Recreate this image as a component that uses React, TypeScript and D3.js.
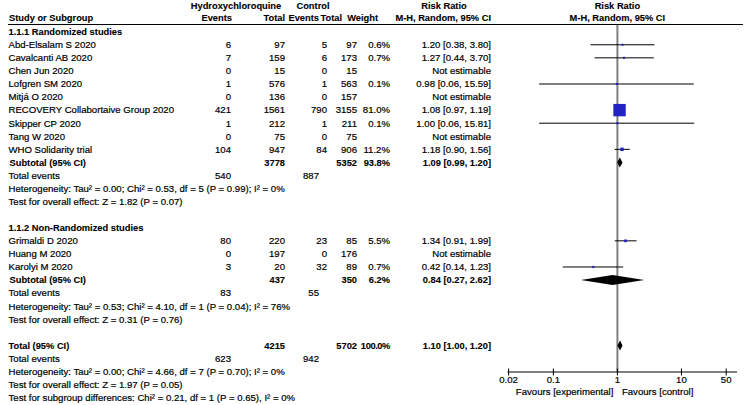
import React from "react";
import * as d3 from "d3";

// study rows
const studyNames = [
  "Abd-Elsalam S 2020",
  "Cavalcanti AB 2020",
  "Chen Jun 2020",
  "Lofgren SM 2020",
  "Mitjá O 2020",
  "RECOVERY Collabortaive Group 2020",
  "Skipper CP 2020",
  "Tang W 2020",
  "WHO Solidarity trial",
  "Grimaldi D 2020",
  "Huang M 2020",
  "Karolyi M 2020",
];
const studyGroup = [0, 0, 0, 0, 0, 0, 0, 0, 0, 1, 1, 1];
const hcqEvents = [6, 7, 0, 1, 0, 421, 1, 0, 104, 80, 0, 3];
const hcqTotals = [97, 159, 15, 576, 136, 1561, 212, 75, 947, 220, 197, 20];
const ctlEvents = [5, 6, 0, 1, 0, 790, 1, 0, 84, 23, 0, 32];
const ctlTotals = [97, 173, 15, 563, 157, 3155, 211, 75, 906, 85, 176, 89];
const weights = [0.6, 0.7, null, 0.1, null, 81.0, 0.1, null, 11.2, 5.5, null, 0.7];
const ratios = [1.2, 1.27, null, 0.98, null, 1.08, 1.0, null, 1.18, 1.34, null, 0.42];
const lowers = [0.38, 0.44, null, 0.06, null, 0.97, 0.06, null, 0.9, 0.91, null, 0.14];
const uppers = [3.8, 3.7, null, 15.59, null, 1.19, 15.81, null, 1.56, 1.99, null, 1.23];

// subgroups
const groupTitles = ["1.1.1 Randomized studies", "1.1.2 Non-Randomized studies"];
const groupHcqTotals = [3778, 437];
const groupCtlTotals = [5352, 350];
const groupWeights = [93.8, 6.2];
const groupRatios = [1.09, 0.84];
const groupLowers = [0.99, 0.27];
const groupUppers = [1.2, 2.62];
const groupHcqEvents = [540, 83];
const groupCtlEvents = [887, 55];
const groupHet = [
  "Heterogeneity: Tau² = 0.00; Chi² = 0.53, df = 5 (P = 0.99); I² = 0%",
  "Heterogeneity: Tau² = 0.53; Chi² = 4.10, df = 1 (P = 0.04); I² = 76%",
];
const groupTest = [
  "Test for overall effect: Z = 1.82 (P = 0.07)",
  "Test for overall effect: Z = 0.31 (P = 0.76)",
];

// overall
const totalHcq = 4215;
const totalCtl = 5702;
const totalWeight = 100.0;
const totalRatio = 1.1;
const totalLower = 1.0;
const totalUpper = 1.2;
const totalHcqEvents = 623;
const totalCtlEvents = 942;
const totalHet = "Heterogeneity: Tau² = 0.00; Chi² = 4.66, df = 7 (P = 0.70); I² = 0%";
const totalTest = "Test for overall effect: Z = 1.97 (P = 0.05)";
const subgroupTest = "Test for subgroup differences: Chi² = 0.21, df = 1 (P = 0.65), I² = 0%";

const axisTicks = [0.02, 0.1, 1, 10, 50];

const W = 745, H = 405;
const FONT = "'Liberation Sans', Arial, sans-serif";
const FS = 9.6;
const FSB = 9.3;
const BLUE = "#2222c4";

// column right edges
const col = { hcqE: 231, hcqT: 285, ctlE: 327, ctlEvTot: 319, ctlT: 357, wt: 390, rr: 491 };

const fmt2 = d3.format(".2f");
const ciText = (r: number, l: number, u: number) => `${fmt2(r)} [${fmt2(l)}, ${fmt2(u)}]`;

type Row =
  | { kind: "heading"; slot: number; text: string }
  | { kind: "study"; slot: number; i: number }
  | { kind: "subtotal"; slot: number; g: number }
  | { kind: "events"; slot: number; a: number; b: number }
  | { kind: "note"; slot: number; text: string }
  | { kind: "total"; slot: number };

function buildRows(): Row[] {
  const rows: Row[] = [];
  let slot = 0;
  groupTitles.forEach((title, g) => {
    rows.push({ kind: "heading", slot: slot++, text: title });
    studyNames.forEach((_, i) => {
      if (studyGroup[i] === g) rows.push({ kind: "study", slot: slot++, i });
    });
    rows.push({ kind: "subtotal", slot: slot++, g });
    rows.push({ kind: "events", slot: slot++, a: groupHcqEvents[g], b: groupCtlEvents[g] });
    rows.push({ kind: "note", slot: slot++, text: groupHet[g] });
    rows.push({ kind: "note", slot: slot++, text: groupTest[g] });
    slot++;
  });
  rows.push({ kind: "total", slot: slot++ });
  rows.push({ kind: "events", slot: slot++, a: totalHcqEvents, b: totalCtlEvents });
  rows.push({ kind: "note", slot: slot++, text: totalHet });
  rows.push({ kind: "note", slot: slot++, text: totalTest });
  rows.push({ kind: "note", slot: slot++, text: subgroupTest });
  return rows;
}

const T = (props: any) => {
  const bold = props.fontWeight === "bold";
  return (
    <text
      fontFamily={FONT}
      fontSize={bold ? FSB : FS}
      dy="0.35em"
      fill="#000"
      stroke="#000"
      strokeWidth={bold ? 0.1 : 0.2}
      {...props}
    />
  );
};
const R = (xx: number, yy: number, s: any, bold = false, extra: any = {}) => (
  <T x={xx} y={yy} textAnchor="end" fontWeight={bold ? "bold" : "normal"} {...extra}>{s}</T>
);

export default function App() {
  const rows = buildRows();
  const y = d3.scaleLinear().domain([0, 28]).range([31.7, 397.7]);
  const x = d3.scaleLog().domain([0.02, 50]).range([508.6, 726.2]);
  const sq = d3.scaleLinear().domain([0, 81]).range([2, 12.4]);
  const axisY = 372;

  const diamond = (r: number, l: number, u: number, cy: number) => {
    const path = d3.path();
    path.moveTo(x(l), cy);
    path.lineTo(x(r), cy - 5);
    path.lineTo(x(u), cy);
    path.lineTo(x(r), cy + 5);
    path.closePath();
    return <path d={path.toString()} fill="#000" />;
  };

  return (
    <svg width={W} height={H} style={{ position: "absolute", left: 0, top: 0, background: "#fff" }}>
      {/* header */}
      <T x={9} y={17.5} fontWeight="bold">Study or Subgroup</T>
      <T x={236} y={6} textAnchor="middle" fontWeight="bold">Hydroxychloroquine</T>
      <T x={313} y={6} textAnchor="middle" fontWeight="bold">Control</T>
      <T x={444} y={6} textAnchor="middle" fontWeight="bold">Risk Ratio</T>
      <T x={x(1)} y={6} textAnchor="middle" fontWeight="bold">Risk Ratio</T>
      {R(232, 17.5, "Events", true)}
      {R(285, 17.5, "Total", true)}
      {R(319, 17.5, "Events", true)}
      {R(342, 17.5, "Total", true)}
      {R(378, 17.5, "Weight", true)}
      {R(491, 17.5, "M-H, Random, 95% CI", true)}
      <T x={x(1)} y={17.5} textAnchor="middle" fontWeight="bold">M-H, Random, 95% CI</T>
      <line x1={8} x2={743} y1={24.5} y2={24.5} stroke="#000" strokeWidth={1} />

      {/* null line */}
      <line x1={x(1)} x2={x(1)} y1={25} y2={axisY} stroke="#808080" strokeWidth={2} />

      {rows.map((row, k) => {
        const cy = y(row.slot);
        if (row.kind === "heading")
          return <T key={k} x={8.5} y={cy} fontWeight="bold">{row.text}</T>;
        if (row.kind === "note") return <T key={k} x={8.5} y={cy}>{row.text}</T>;
        if (row.kind === "events")
          return (
            <g key={k}>
              <T x={8.5} y={cy}>Total events</T>
              {R(col.hcqE, cy, row.a)}
              {R(col.ctlEvTot, cy, row.b)}
            </g>
          );
        if (row.kind === "study") {
          const i = row.i;
          const r = ratios[i], l = lowers[i], u = uppers[i], w = weights[i];
          const s = w != null ? sq(w) : 0;
          return (
            <g key={k}>
              <T x={8.5} y={cy}>{studyNames[i]}</T>
              {R(col.hcqE, cy, hcqEvents[i])}
              {R(col.hcqT, cy, hcqTotals[i])}
              {R(col.ctlE, cy, ctlEvents[i])}
              {R(col.ctlT, cy, ctlTotals[i])}
              {w != null && R(col.wt, cy, `${w.toFixed(1)}%`)}
              {R(col.rr, cy, r != null ? ciText(r, l!, u!) : "Not estimable")}
              {r != null && (
                <>
                  <line x1={x(l!)} x2={x(u!)} y1={cy} y2={cy} stroke="#000" strokeWidth={1} />
                  <rect x={x(r) - s / 2} y={cy - s / 2} width={s} height={s} fill={BLUE} />
                </>
              )}
            </g>
          );
        }
        if (row.kind === "subtotal") {
          const g = row.g;
          return (
            <g key={k}>
              <T x={9.5} y={cy} fontWeight="bold">Subtotal (95% CI)</T>
              {R(col.hcqT, cy, groupHcqTotals[g], true)}
              {R(col.ctlT, cy, groupCtlTotals[g], true)}
              {R(col.wt, cy, `${groupWeights[g].toFixed(1)}%`, true)}
              {R(col.rr, cy, ciText(groupRatios[g], groupLowers[g], groupUppers[g]), true)}
              {diamond(groupRatios[g], groupLowers[g], groupUppers[g], cy)}
            </g>
          );
        }
        return (
          <g key={k}>
            <T x={8.5} y={cy} fontWeight="bold">Total (95% CI)</T>
            {R(col.hcqT, cy, totalHcq, true)}
            {R(col.ctlT, cy, totalCtl, true)}
            {R(col.wt, cy, `${totalWeight.toFixed(1)}%`, true, { letterSpacing: -0.4 })}
            {R(col.rr, cy, ciText(totalRatio, totalLower, totalUpper), true)}
            {diamond(totalRatio, totalLower, totalUpper, cy)}
          </g>
        );
      })}

      {/* axis */}
      <line x1={x(0.02) - 1} x2={737} y1={axisY} y2={axisY} stroke="#000" strokeWidth={1} />
      {axisTicks.map((t) => (
        <g key={t}>
          <line x1={x(t)} x2={x(t)} y1={axisY - 3.5} y2={axisY + 3.5} stroke="#000" strokeWidth={1} />
          <T x={x(t)} y={380} textAnchor="middle">{String(t)}</T>
        </g>
      ))}
      <T x={x(1) - 4} y={392} textAnchor="end">Favours [experimental]</T>
      <T x={x(1) + 4.5} y={392}>Favours [control]</T>
    </svg>
  );
}
